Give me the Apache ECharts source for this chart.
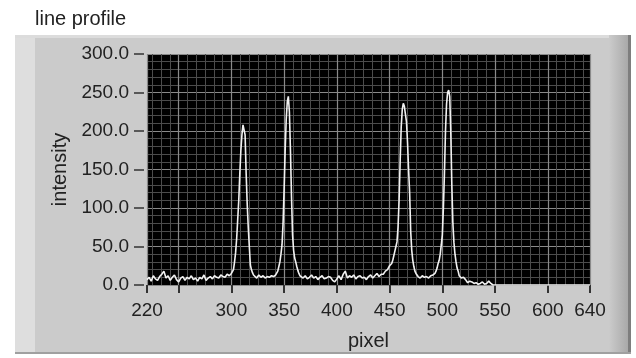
<!DOCTYPE html>
<html>
<head>
<meta charset="utf-8">
<script src="https://cdn.jsdelivr.net/npm/echarts@6/dist/echarts.min.js"></script>
<style>
html, body { margin: 0; background: #fff; }
#chart { width: 636px; height: 358px; }
</style>
</head>
<body>
<div id="chart"></div>
<script>
// line profile: pixel position -> intensity
var pixel = [
  220,222,224,226,228,230,232,234,236,238,240,242,244,246,248,250,252,254,256,258,
  260,262,264,266,268,270,272,274,276,278,280,282,284,286,288,290,292,294,296,298,300,
  301,302,303,304,305,306,307,308,309,310,311,312,313,314,315,316,317,318,319,320,321,
  322,324,326,328,330,332,334,336,338,340,342,
  343,344,345,346,347,348,349,350,351,352,353,354,355,356,357,358,359,360,361,362,363,364,365,
  366,368,370,372,374,376,378,380,382,384,386,388,390,392,394,396,398,400,402,404,
  406,408,410,412,414,416,418,420,422,424,426,428,430,432,434,436,438,440,442,
  444,445,446,447,448,449,450,451,452,453,454,455,456,457,458,459,460,461,462,463,
  464,465,466,467,468,469,470,471,472,473,474,475,476,
  477,479,481,483,485,487,489,491,493,
  494,495,496,497,498,499,500,501,502,503,504,505,506,507,508,509,510,511,512,513,514,515,
  516,518,520,522,524,526,528,530,532,534,536,538,540,542,544,546,548,
  640
];
var intensity = [
  7,10,5,12,8,6,11,14,18,9,12,6,10,13,7,4,9,11,6,10,
  8,12,7,9,5,10,8,13,6,9,11,8,12,10,9,13,11,10,14,12,15,
  14,20,30,42,60,85,110,145,175,195,208,210,195,145,105,75,50,26,20,16,13,
  11,9,13,10,12,9,11,10,12,11,13,
  14,18,24,30,40,52,80,125,175,215,238,245,225,175,115,65,45,35,30,24,19,15,12,
  11,9,12,8,10,13,9,11,7,10,12,8,9,11,10,6,4,8,12,7,
  14,18,9,12,10,13,8,11,12,9,10,7,11,13,9,12,15,11,14,
  14,16,18,17,20,22,25,24,28,32,38,44,50,56,75,110,160,205,228,236,
  232,222,212,185,150,120,70,45,32,24,18,15,13,
  11,9,12,10,11,9,12,13,15,
  18,22,28,32,40,52,65,100,145,200,235,250,253,245,200,130,80,55,40,30,22,18,
  12,9,10,7,3,5,4,2,3,1,2,4,1,2,5,2,0,
  0
];

var xTicks = [220, 250, 300, 350, 400, 450, 500, 550, 600, 640];
var xLabels = [220, 300, 350, 400, 450, 500, 550, 600, 640];

// minor grid: six divisions between x majors
var xMinor = [];
for (var v = 225; v < 640; v += 50 / 6) {
  var k = (v - 250) / 50;
  if (Math.abs(k - Math.round(k)) > 0.01) xMinor.push(+v.toFixed(2));
}

var font = 'Liberation Sans, Arial, sans-serif';
var chart = echarts.init(document.getElementById('chart'));
chart.setOption({
  animation: false,
  textStyle: { fontFamily: font },
  title: {
    text: 'line profile',
    left: 30,
    top: 4,
    textStyle: { fontSize: 20, fontWeight: 'normal', color: '#222', fontFamily: font }
  },
  graphic: [
    { type: 'rect', z: -10, shape: { x: 15, y: 35, width: 616, height: 319 }, style: { fill: '#cbcbcb' } },
    { type: 'rect', z: -9, shape: { x: 15, y: 35, width: 20, height: 319 }, style: { fill: '#dedede' } },
    { type: 'rect', z: -9, shape: { x: 15, y: 35, width: 616, height: 3 }, style: { fill: '#dcdcdc' } },
    {
      type: 'rect', z: -9, shape: { x: 609, y: 35, width: 19, height: 319 },
      style: { fill: new echarts.graphic.LinearGradient(0, 0, 1, 0, [
        { offset: 0, color: '#cbcbcb' }, { offset: 1, color: '#a9a9a9' }
      ]) }
    },
    { type: 'rect', z: -9, shape: { x: 628, y: 35, width: 3, height: 319 }, style: { fill: '#7e7e7e' } },
    { type: 'rect', z: -9, shape: { x: 15, y: 352, width: 616, height: 2 }, style: { fill: '#a0a0a0' } }
  ],
  grid: {
    left: 147, top: 54, width: 443, height: 231,
    show: true, backgroundColor: '#000', borderWidth: 0
  },
  xAxis: [{
    type: 'value', min: 220, max: 640, offset: 4,
    name: 'pixel', nameLocation: 'middle', nameGap: 42,
    nameTextStyle: { fontSize: 20, color: '#222', fontFamily: font },
    axisLine: { show: false },
    axisTick: { show: true, length: 8, customValues: xTicks, lineStyle: { color: '#333', width: 2 } },
    axisLabel: { customValues: xLabels, margin: 12, fontSize: 19, color: '#222', fontFamily: font },
    splitLine: { show: true, lineStyle: { color: '#8a8a8a', width: 1.2 } }
  }, {
    type: 'value', min: 220, max: 640, position: 'bottom',
    axisLine: { show: false },
    axisTick: { show: false, customValues: xMinor },
    axisLabel: { show: false },
    splitLine: { show: true, lineStyle: { color: '#4c4c4c', width: 1 } }
  }],
  yAxis: {
    type: 'value', min: 0, max: 300, interval: 50, offset: 3,
    name: 'intensity', nameLocation: 'middle', nameGap: 74, nameRotate: 90,
    nameTextStyle: { fontSize: 20, color: '#222', fontFamily: font },
    axisLine: { show: false },
    axisTick: { show: true, length: 10, lineStyle: { color: '#333', width: 1.5 } },
    axisLabel: {
      margin: 15, fontSize: 19, color: '#222', fontFamily: font,
      formatter: function (val) { return val.toFixed(1); }
    },
    splitLine: { show: true, lineStyle: { color: '#8a8a8a', width: 1.2 } },
    minorTick: { show: false, splitNumber: 5 },
    minorSplitLine: { show: true, lineStyle: { color: '#4c4c4c', width: 1 } }
  },
  series: [{
    type: 'line',
    data: pixel.map(function (p, i) { return [p, intensity[i]]; }),
    showSymbol: false,
    lineStyle: { color: '#f2f2f2', width: 1.6 },
    z: 5
  }]
});
</script>
</body>
</html>
